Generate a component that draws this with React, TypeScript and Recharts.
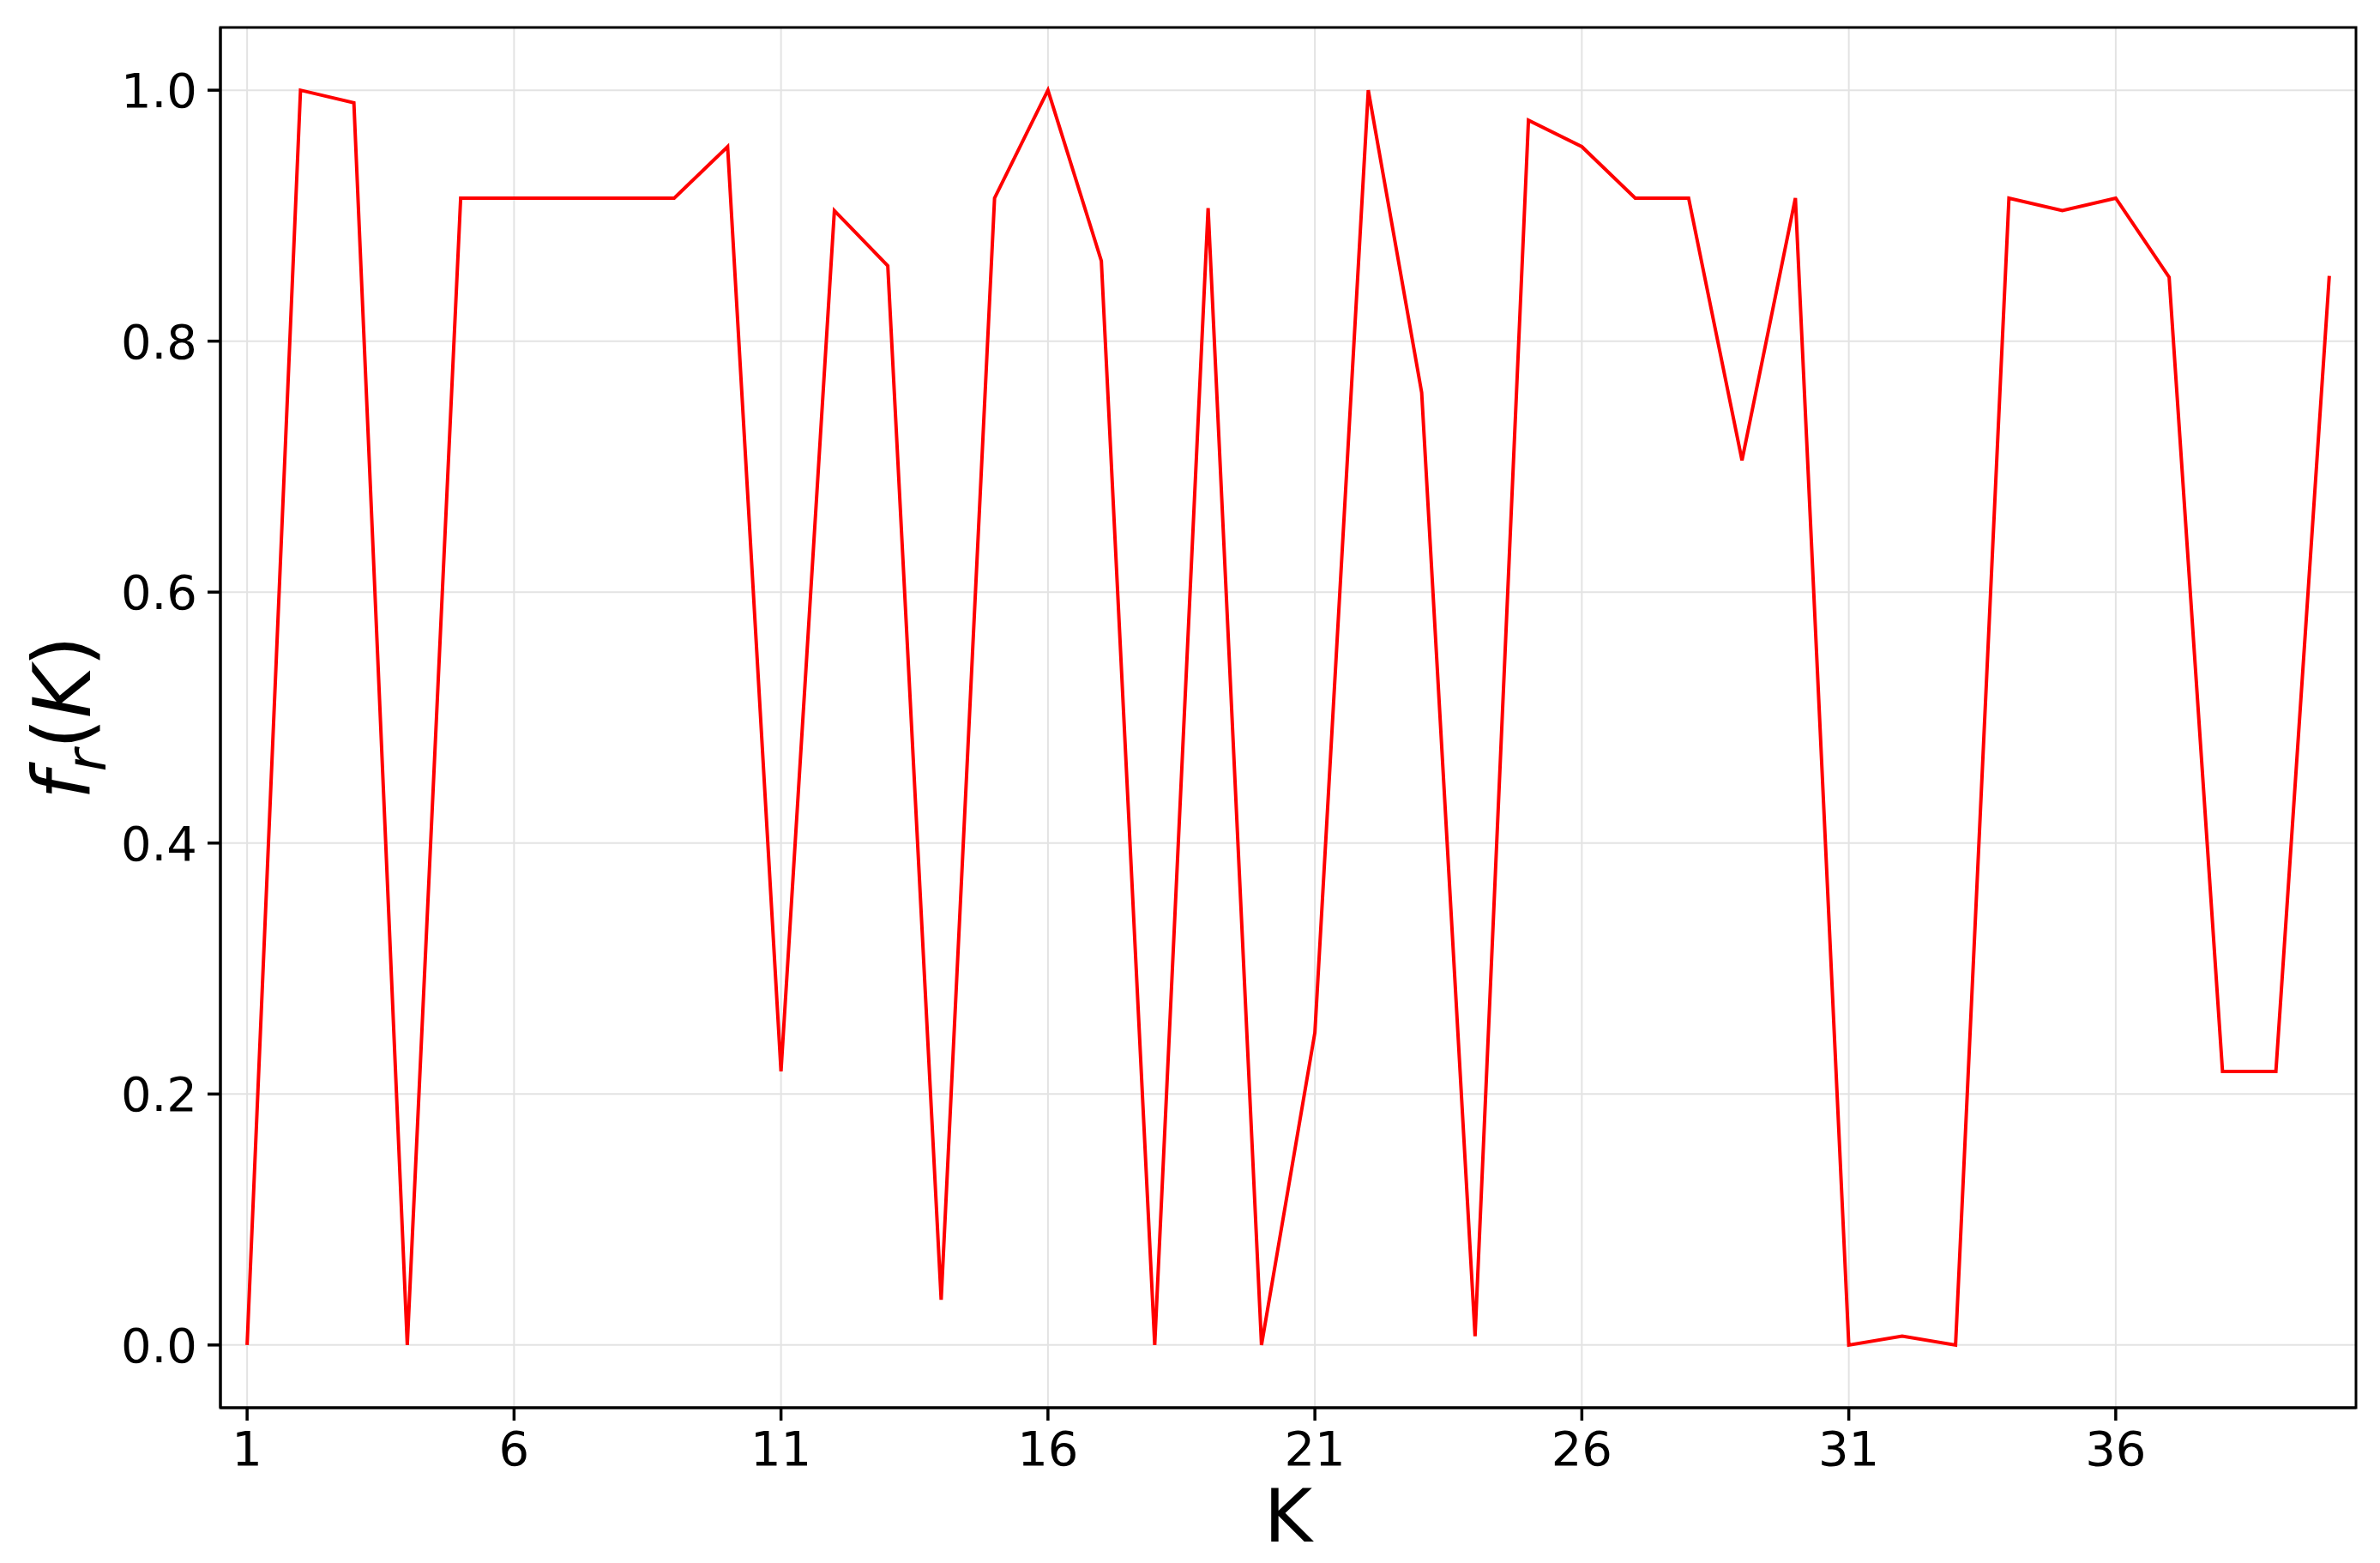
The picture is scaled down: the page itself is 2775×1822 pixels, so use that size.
import React from 'react'
import { LineChart, Line, XAxis, YAxis, CartesianGrid, ReferenceArea, Label } from 'recharts'

// K values and f_r(K)
const kValues = [
  1, 2, 3, 4, 5, 6, 7, 8, 9, 10,
  11, 12, 13, 14, 15, 16, 17, 18, 19, 20,
  21, 22, 23, 24, 25, 26, 27, 28, 29, 30,
  31, 32, 33, 34, 35, 36, 37, 38, 39, 40,
]
const frValues = [
  0, 1.0, 0.99, 0, 0.914, 0.914, 0.914, 0.914, 0.914, 0.955,
  0.218, 0.904, 0.86, 0.036, 0.914, 1.0, 0.864, 0, 0.906, 0,
  0.249, 1.0, 0.759, 0.007, 0.976, 0.955, 0.914, 0.914, 0.705, 0.914,
  0, 0.007, 0, 0.914, 0.904, 0.914, 0.851, 0.218, 0.218, 0.852,
]
const xTicks = [1, 6, 11, 16, 21, 26, 31, 36]
const yTicks = [0, 0.2, 0.4, 0.6, 0.8, 1.0]

const data = kValues.map((k, i) => ({ k, fr: frValues[i] }))

const FONT = '"DejaVu Sans", sans-serif'
const W = 2775
const H = 1822

export default function App() {
  // negative margin cancels the body's default 8px so the svg sits at the page origin
  return (
    <div style={{ width: W, height: H, margin: -8, background: '#fff' }}>
      <LineChart
        width={W}
        height={H}
        data={data}
        margin={{ top: 32, right: 28, left: 57, bottom: 81 }}
      >
        <CartesianGrid stroke="#e3e3e3" strokeWidth={2} />
        <XAxis
          dataKey="k"
          type="number"
          domain={[0.5, 40.5]}
          ticks={xTicks}
          allowDataOverflow
          height={100}
          axisLine={{ stroke: '#000', strokeWidth: 3 }}
          tickLine={{ stroke: '#000', strokeWidth: 3.5 }}
          tickSize={15}
          tickMargin={12}
          tick={{ fontSize: 56, fill: '#000', fontFamily: FONT }}
        >
          <Label
            content={({ viewBox }: any) => (
              <text
                x={viewBox.x + viewBox.width / 2}
                y={1797}
                textAnchor="middle"
                fontSize={86}
                fontFamily={FONT}
                fill="#000"
              >
                K
              </text>
            )}
          />
        </XAxis>
        <YAxis
          type="number"
          domain={[-0.05, 1.05]}
          ticks={yTicks}
          allowDataOverflow
          width={200}
          axisLine={{ stroke: '#000', strokeWidth: 3 }}
          tickLine={{ stroke: '#000', strokeWidth: 3.5 }}
          tickSize={15}
          tickMargin={12}
          tickFormatter={(v: number) => v.toFixed(1)}
          tick={{ fontSize: 56, fill: '#000', fontFamily: FONT }}
        >
          <Label
            content={({ viewBox }: any) => {
              const cy = viewBox.y + viewBox.height / 2
              const bx = 105
              return (
                <text
                  x={bx}
                  y={cy}
                  transform={`rotate(-90, ${bx}, ${cy})`}
                  textAnchor="middle"
                  fontSize={92}
                  fontFamily={FONT}
                  fill="#000"
                >
                  <tspan fontStyle="italic">f</tspan>
                  <tspan fontStyle="italic" fontSize={64} dy={18}>r</tspan>
                  <tspan dy={-18}>(</tspan>
                  <tspan fontStyle="italic">K</tspan>
                  <tspan>)</tspan>
                </text>
              )
            }}
          />
        </YAxis>
        <Line
          type="linear"
          dataKey="fr"
          stroke="#ff0000"
          strokeWidth={4}
          dot={false}
          activeDot={false}
          isAnimationActive={false}
        />
        <ReferenceArea
          x1={0.5}
          x2={40.5}
          y1={-0.05}
          y2={1.05}
          fill="none"
          fillOpacity={0}
          stroke="#000"
          strokeWidth={3}
        />
      </LineChart>
    </div>
  )
}
